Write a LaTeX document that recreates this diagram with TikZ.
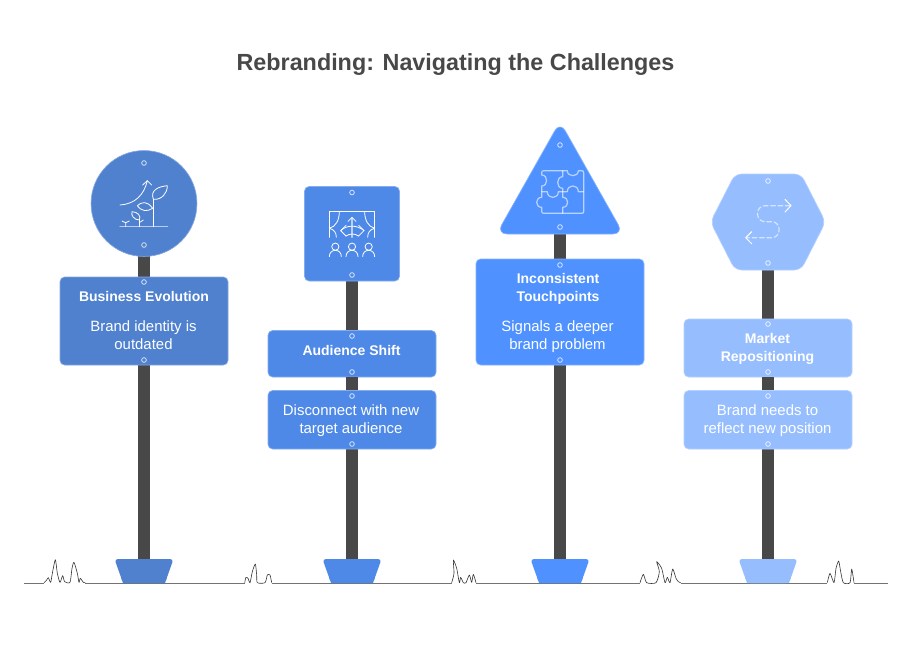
\documentclass[tikz,border=0pt]{standalone}
\usepackage{fontspec}
\setmainfont{Liberation Sans}
\definecolor{cA}{HTML}{4F81CE}
\definecolor{cB}{HTML}{4E89E8}
\definecolor{cC}{HTML}{4F92FF}
\definecolor{cD}{HTML}{96BEFF}
\definecolor{post}{HTML}{484848}
\definecolor{ttl}{HTML}{484848}
\newcounter{hc}
\newcommand{\panelbox}[5]{\draw[line width=.5pt,draw=#1!70!white,fill=#1,rounded corners=3.5pt] (#2,#3) rectangle (#4,#5);}
\newcommand{\hole}[3]{\stepcounter{hc}\node[holest=#1] (hole\arabic{hc}) at (#2,#3) {};}
\tikzset{
  holest/.style={circle,inner sep=0pt,minimum size=3.5pt,line width=.6pt,draw=white!75!#1,fill=#1},
  body/.style={text=white,align=center,inner sep=0pt,font=\fontsize{11.2}{13.5}\selectfont},
  head/.style={text=white,align=center,inner sep=0pt,font=\fontsize{10.5}{13.5}\selectfont\bfseries},
  ic/.style={draw=white,line width=.6pt,line cap=round,line join=round},
  icsoft/.style={draw=white,draw opacity=.6,line width=.9pt,line cap=round,line join=round},
  grass/.style={draw=black!80,line width=.45pt,line join=round},
  zoomA/.style={shift={(#1)},x=.25pt,y=-.25pt}
}
\begin{document}
\begin{tikzpicture}[x=.75pt,y=-.75pt]
\path[use as bounding box,fill=white] (0,0) rectangle (912,644);
\node[text=ttl,inner sep=0pt,font=\fontsize{17.5}{22}\selectfont\bfseries] (title) at (455.5,64.5) {Rebranding: Navigating the Challenges};
% ground
\draw[draw=black!55,line width=.7pt] (24,583) -- (44,583) (85.3,583) -- (244.7,583) (271.7,583) -- (451.7,583) (476,583) -- (640,583) (680.7,583) -- (827.3,583) (854,583) -- (888,583);
% grass
\begin{scope}[zoomA={20,545}]
\draw[grass] plot[smooth,tension=.4] coordinates {(72,113)(80,105)(85,98)(92,112)(97,85)(106,44)(112,85)(120,112)(128,92)(134,110)(150,112)(156,70)(162,52)(172,85)(177,112)(181,100)(190,112)(196,113)};
\draw[grass] plot[smooth,tension=.4] coordinates {(674,113)(678,97)(684,100)(690,113)(697,80)(706,57)(710,90)(712,113)(735,113)(742,90)(750,90)(755,113)};
\end{scope}
\begin{scope}[zoomA={430,545}]
\draw[grass] plot[smooth,tension=.4] coordinates {(65,113)(72,85)(70,45)(80,70)(88,113)(92,97)(100,113)(108,113)(118,90)(125,112)(130,88)(138,113)};
\draw[grass] plot[smooth,tension=.4] coordinates {(630,113)(640,88)(650,113)(678,113)(688,80)(680,50)(695,70)(705,113)(712,97)(720,113)(728,72)(738,100)(745,110)(752,113)};
\draw[grass] plot[smooth,tension=.4] coordinates {(1192,113)(1200,85)(1212,113)(1218,70)(1226,48)(1232,80)(1240,113)(1260,113)(1265,72)(1272,113)};
\end{scope}
% posts
\fill[post] (138.2,255) rectangle (149.6,559);
\fill[post] (346.2,280) rectangle (357.8,559);
\fill[post] (554.2,232) rectangle (565.8,559);
\fill[post] (762.2,268) rectangle (773.8,559);
% bases
\foreach \cx/\col in {144/cA,352/cB,560/cC,768/cD}{
  \fill[\col,rounded corners=2.5pt] (\cx-29.5,559) -- (\cx+29.5,559) -- (\cx+21,583) -- (\cx-21,583) -- cycle;
  \fill[\col] (\cx-21,583) -- (\cx+21,583) -- (\cx+23,577) -- (\cx-23,577) -- cycle;
}
% sign 1
\draw[line width=.5pt,draw=cA!70!white,fill=cA] (144,203.5) circle (39.7pt);
\hole{cA}{144}{163}\hole{cA}{144}{245}
\panelbox{cA}{60}{277}{228}{365}
\hole{cA}{144}{282}\hole{cA}{144}{360}
\node[head] (t1a) at (144,296) {Business Evolution};
\node[body] (t1b) at (143.5,335.5) {Brand identity is\\outdated};
\begin{scope}[zoomA={60,140}]
\draw[icsoft] (180,260) -- (323,260);
\draw[ic] (180,195) .. controls (225,192) and (252,165) .. (262,122);
\draw[ic] (248,135) -- (262,122) -- (275,135);
\draw[ic] (280,260) -- (280,178);
\draw[ic] (280,178) .. controls (270,150) and (295,140) .. (322,137) .. controls (322,160) and (305,180) .. (280,178);
\draw[ic] (232,197) .. controls (245,185) and (262,182) .. (278,205) .. controls (260,216) and (245,214) .. (232,197);
\draw[ic] (238,260) -- (238,240);
\draw[ic] (238,240) .. controls (222,240) and (212,225) .. (216,215) .. controls (232,215) and (245,228) .. (238,240);
\draw[ic] (238,248) -- (250,240);
\draw[ic] (197,260) -- (197,248) -- (186,243);
\draw[ic] (197,248) -- (208,243);
\end{scope}
% sign 2
\panelbox{cB}{304.5}{186.5}{399.5}{281}
\hole{cB}{352}{192.5}\hole{cB}{352}{275}
\panelbox{cB}{268}{330.5}{436}{377}
\hole{cB}{352}{336}\hole{cB}{352}{372}
\fill[post] (346.2,377) rectangle (357.8,390.5);
\panelbox{cB}{268}{390.5}{436}{449}
\hole{cB}{352}{396}\hole{cB}{352}{444}
\node[head] (t2a) at (351.5,350) {Audience Shift};
\node[body] (t2b) at (351,420.5) {Disconnect with new\\target audience};
\begin{scope}[zoomA={290,180}]
\draw[ic] (118,172) -- (118,94) -- (254,94) -- (254,172);
\draw[ic] (148,94) .. controls (148,120) and (138,140) .. (118,145) .. controls (132,148) and (139,158) .. (139,172);
\draw[ic] (224,94) .. controls (224,120) and (234,140) .. (254,145) .. controls (240,148) and (233,158) .. (233,172);
\draw[icsoft] (186,172) -- (186,114);
\draw[ic] (174,124) -- (186,112) -- (198,124);
\draw[ic] (168,136) -- (152,152) -- (168,168);
\draw[ic] (206,136) -- (222,152) -- (206,168);
\draw[ic] (152,152) .. controls (170,134) and (202,134) .. (222,152);
\draw[ic] (168,168) .. controls (180,160) and (194,160) .. (206,168);
\foreach \px in {136,186,236}{
  \draw[ic] (\px,200) circle (2.7pt);
  \draw[ic] (\px-18,230) .. controls (\px-18,218) and (\px-10,211) .. (\px,211) .. controls (\px+10,211) and (\px+18,218) .. (\px+18,230);
}
\end{scope}
% sign 3
\draw[line width=.5pt,draw=cC!70!white,fill=cC,rounded corners=8pt] (560,121.5) -- (623.5,234) -- (496.5,234) -- cycle;
\hole{cC}{560}{145}\hole{cC}{560}{227}
\panelbox{cC}{476}{259}{644}{365}
\hole{cC}{560}{265}\hole{cC}{560}{360}
\node[head] (t3a) at (558,289) {Inconsistent\\Touchpoints};
\node[body] (t3b) at (557.5,336.5) {Signals a deeper\\brand problem};
\begin{scope}[zoomA={490,120}]
\draw[icsoft] (161,152) -- (218,152) -- (232,152) .. controls (232,172) and (265,172) .. (265,152) -- (275,152) .. controls (279,152) and (281,154) .. (281,158) -- (281,274) .. controls (281,278) and (279,280) .. (275,280) -- (161,280) .. controls (157,280) and (155,278) .. (155,274) -- (155,262) .. controls (135,262) and (135,232) .. (155,232) -- (155,198) .. controls (175,198) and (175,165) .. (155,165) -- (155,158) .. controls (155,154) and (157,152) .. (161,152);
\draw[icsoft] (218,152) -- (218,170) .. controls (198,170) and (198,205) .. (218,205) -- (218,232) .. controls (238,232) and (238,262) .. (218,262) -- (218,280);
\draw[icsoft] (155,215) -- (172,215) .. controls (172,238) and (205,238) .. (205,215) -- (232,215) .. controls (232,192) and (265,192) .. (265,215) -- (281,215);
\end{scope}
% sign 4
\draw[line width=.5pt,draw=cD!70!white,fill=cD,rounded corners=5pt] (735,174) -- (801,174) -- (825.5,222) -- (801,270) -- (735,270) -- (710.5,222) -- cycle;
\hole{cD}{768}{181}\hole{cD}{768}{263}
\panelbox{cD}{684}{319}{852}{377}
\hole{cD}{768}{324}\hole{cD}{768}{372}
\fill[post] (762.2,377) rectangle (773.8,390.5);
\panelbox{cD}{684}{390.5}{852}{449}
\hole{cD}{768}{396}\hole{cD}{768}{444}
\node[head] (t4a) at (767.5,349) {Market\\Repositioning};
\node[body] (t4b) at (767.5,420.5) {Brand needs to\\reflect new position};
\begin{scope}[zoomA={700,165}]
\draw[ic,line width=.7pt] (255,103) -- (273,122) -- (255,141);
\draw[ic,line width=.7pt] (155,200) -- (137,218) -- (155,236);
\draw[icsoft,dashed,dash pattern=on 3.5pt off 2pt] (270,122) -- (195,122) .. controls (165,122) and (165,170) .. (195,170) -- (215,170) .. controls (245,170) and (245,218) .. (215,218) -- (140,218);
\end{scope}
\end{tikzpicture}
\end{document}
